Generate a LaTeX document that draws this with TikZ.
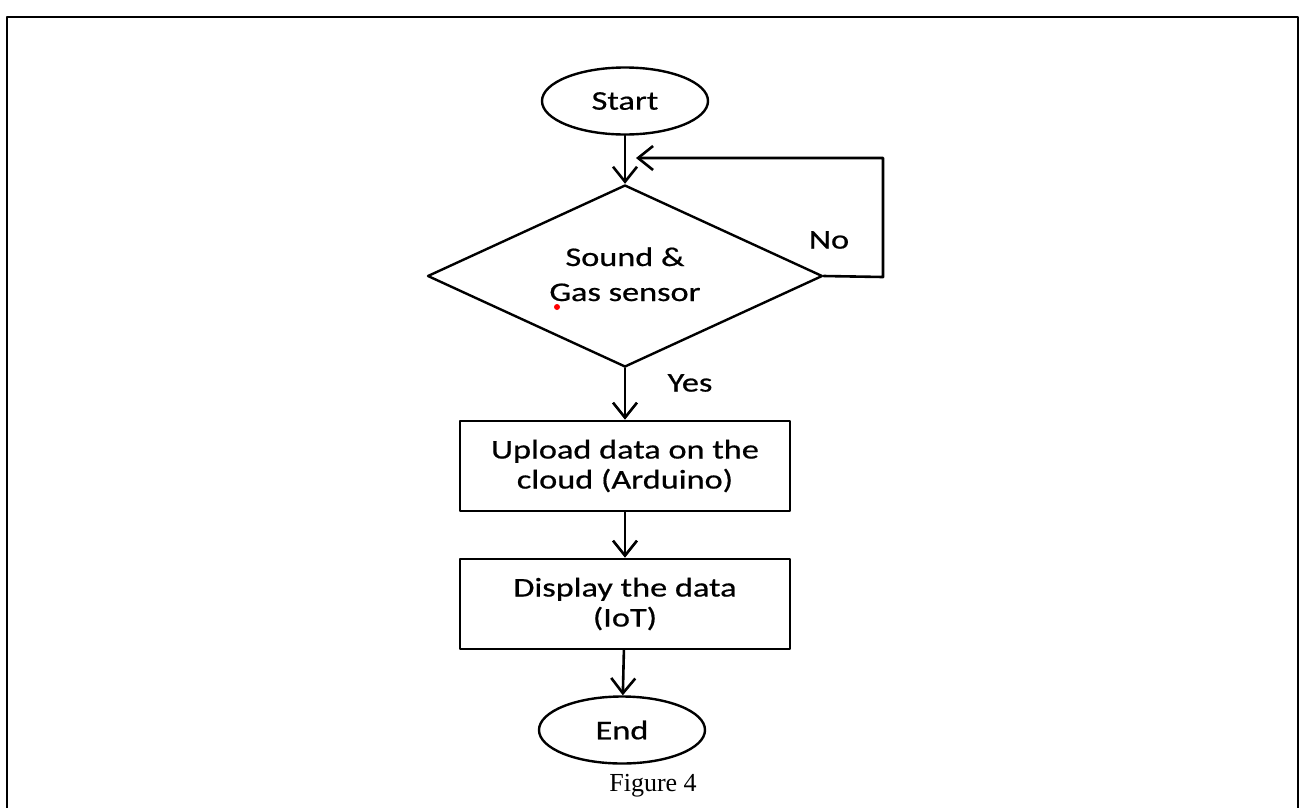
\documentclass[tikz,border=0pt]{standalone}
\usepackage{fontspec}
\setmainfont{Carlito}
\newfontfamily\flowfont[FakeStretch=1.27,FakeBold=0.6]{Carlito}
\newfontfamily\capfont{Liberation Serif}
\usetikzlibrary{shapes.geometric,arrows.meta}
\newcommand{\thin}[1]{\raisebox{-7.5pt}[0pt][0pt]{\makebox[0pt]{#1}}}
\tikzset{
  term/.style={ellipse,draw,line width=2.4pt,minimum width=166pt,minimum height=67pt,inner sep=0pt,font=\flowfont\fontsize{27}{30}\selectfont},
  procbox/.style={rectangle,draw,line width=2.6pt,minimum width=330pt,minimum height=90pt,inner sep=0pt,align=center,font=\flowfont\fontsize{27}{30}\selectfont},
  decide/.style={diamond,draw,line width=2.4pt,minimum width=395pt,minimum height=182pt,inner sep=0pt,align=center,font=\flowfont\fontsize{27}{35}\selectfont},
  flow/.style={line width=2.6pt,-{Straight Barb[length=15pt,width=24pt,line width=2.6pt]}},
  lbl/.style={font=\flowfont\fontsize{27}{30}\selectfont}
}

\begin{document}
\begin{tikzpicture}[x=1pt,y=-1pt,line cap=round,line join=round]
\path[use as bounding box] (0,0) rectangle (1301,807);
\draw[line width=2.2pt,line cap=butt] (7,812) -- (7,17) -- (1298,17) -- (1298,812);
\node[term] (start) at (625,101) {Start};
\node[decide] (sensor) at (625,276) {\thin{Sound \&}\\\thin{Gas sensor}};
\node[procbox] (upload) at (625,466) {Upload data on the\\cloud (Arduino)};
\node[procbox] (show) at (625,604) {Display the data\\(IoT)};
\node[term] (stop) at (622,730) {End};
\coordinate (join) at (625,158);
\coordinate (turn) at (883,277);
\draw[flow] (start) -- (sensor);
\draw[flow] (sensor.east) -- (turn) |- ([xshift=11pt]join);
\draw[flow] (sensor) -- (upload);
\draw[flow] (upload) -- (show);
\draw[flow] (show) -- (stop);
\node[lbl] (no) at (829,240) {No};
\node[lbl] (yes) at (690,383) {Yes};
\fill[red] (557,307) circle[radius=3pt];
\node[font=\capfont\fontsize{26}{30}\selectfont] (cap) at (653,786) {Figure 4};
\end{tikzpicture}
\end{document}
